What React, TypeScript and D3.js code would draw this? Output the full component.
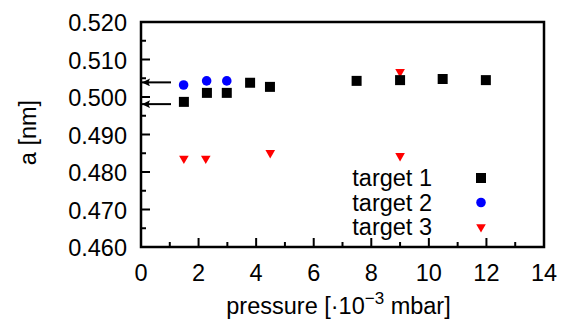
import React, { useEffect, useRef } from "react";
import * as d3 from "d3";

// target 1: black squares
const t1Pressure = [1.49, 2.29, 2.98, 3.79, 4.48, 7.49, 9.0, 10.48, 11.98];
const t1Lattice = [0.4987, 0.5011, 0.5011, 0.5038, 0.5027, 0.5043, 0.5045, 0.5048, 0.5045];
// target 2: blue circles
const t2Pressure = [1.48, 2.28, 2.98];
const t2Lattice = [0.5032, 0.5043, 0.5043];
// target 3: red triangles
const t3Pressure = [1.49, 2.25, 4.49, 9.0, 9.0];
const t3Lattice = [0.4836, 0.4836, 0.4851, 0.4843, 0.5067];
// reference values marked with arrows on the y axis
const arrowLattice = [0.5039, 0.4981];

const xTicks = [0, 2, 4, 6, 8, 10, 12, 14];
const yTicks = [0.46, 0.47, 0.48, 0.49, 0.5, 0.51, 0.52];
const legendLabels = ["target 1", "target 2", "target 3"];

const W = 566;
const H = 323;
const FONT = "Liberation Sans, Arial, sans-serif";
const FS = 23.5;

const App = () => {
  const svgRef = useRef<SVGSVGElement>(null);

  useEffect(() => {
    const svg = d3.select(svgRef.current);
    svg.selectAll("*").remove();

    const margin = { top: 22, right: 22, bottom: 76, left: 141 };
    const width = W - margin.left - margin.right;
    const height = H - margin.top - margin.bottom;

    const x = d3.scaleLinear().domain([0, 14]).range([0, width]);
    const y = d3.scaleLinear().domain([0.46, 0.52]).range([height, 0]);

    const g = svg
      .append("g")
      .attr("transform", `translate(${margin.left},${margin.top})`);

    const label = (parent: any, tx: number, ty: number, anchor: string, rot = 0) =>
      parent
        .append("text")
        .attr("transform", `translate(${tx},${ty})${rot ? ` rotate(${rot})` : ""}`)
        .attr("text-anchor", anchor)
        .attr("font-family", FONT)
        .attr("font-size", FS)
        .attr("fill", "#000");

    // minor ticks, pointing inward
    const xMinor = d3.range(1, 14, 2);
    g.selectAll(".xminor")
      .data(xMinor)
      .enter()
      .append("line")
      .attr("x1", (d) => x(d))
      .attr("x2", (d) => x(d))
      .attr("y1", height)
      .attr("y2", height - 5)
      .attr("stroke", "#000")
      .attr("stroke-width", 2);
    g.selectAll(".xmajor")
      .data(xTicks)
      .enter()
      .append("line")
      .attr("x1", (d) => x(d))
      .attr("x2", (d) => x(d))
      .attr("y1", height)
      .attr("y2", height - 9)
      .attr("stroke", "#000")
      .attr("stroke-width", 2);

    const yMinor = d3.range(0, 6).map((i) => 0.465 + i * 0.01);
    g.selectAll(".yminor")
      .data(yMinor)
      .enter()
      .append("line")
      .attr("x1", 0)
      .attr("x2", 5)
      .attr("y1", (d) => y(d))
      .attr("y2", (d) => y(d))
      .attr("stroke", "#000")
      .attr("stroke-width", 2);
    g.selectAll(".ymajor")
      .data(yTicks)
      .enter()
      .append("line")
      .attr("x1", 0)
      .attr("x2", 9)
      .attr("y1", (d) => y(d))
      .attr("y2", (d) => y(d))
      .attr("stroke", "#000")
      .attr("stroke-width", 2);

    // frame
    g.append("rect")
      .attr("width", width)
      .attr("height", height)
      .attr("fill", "none")
      .attr("stroke", "#000")
      .attr("stroke-width", 2.5);

    // tick labels
    xTicks.forEach((t) => {
      label(g, x(t), height + 34, "middle").text(t);
    });
    yTicks.forEach((t) => {
      label(g, -14, y(t) + 9, "end").text(d3.format(".3f")(t));
    });

    // axis titles
    const xt = label(g, width / 2 - 4, height + 67, "middle");
    xt.append("tspan").text("pressure [·10");
    xt.append("tspan").attr("dy", -10).attr("font-size", 17).text("−3");
    xt.append("tspan").attr("dy", 10).text(" mbar]");

    label(svg, 36, margin.top + height / 2 - 2, "middle", -90).text("a [nm]");

    // arrows
    svg
      .append("defs")
      .append("marker")
      .attr("id", "arrowhead")
      .attr("viewBox", "0 0 10 10")
      .attr("refX", 10)
      .attr("refY", 5)
      .attr("markerWidth", 6)
      .attr("markerHeight", 4)
      .attr("orient", "auto")
      .append("path")
      .attr("d", "M0,0L10,5L0,10L2,5Z")
      .attr("fill", "#000");
    g.selectAll(".arrow")
      .data(arrowLattice)
      .enter()
      .append("line")
      .attr("x1", 30)
      .attr("x2", 1)
      .attr("y1", (d) => y(d))
      .attr("y2", (d) => y(d))
      .attr("stroke", "#000")
      .attr("stroke-width", 2)
      .attr("marker-end", "url(#arrowhead)");

    const square = d3.symbol().type(d3.symbolSquare).size(100);
    const circle = d3.symbol().type(d3.symbolCircle).size(72);
    const tri = d3.symbol().type(d3.symbolTriangle).size(40);

    g.selectAll(".t3")
      .data(t3Pressure)
      .enter()
      .append("path")
      .attr("d", tri)
      .attr("transform", (d, i) => `translate(${x(d)},${y(t3Lattice[i])}) rotate(180)`)
      .attr("fill", "#ff0000");
    g.selectAll(".t2")
      .data(t2Pressure)
      .enter()
      .append("path")
      .attr("d", circle)
      .attr("transform", (d, i) => `translate(${x(d)},${y(t2Lattice[i])})`)
      .attr("fill", "#0000ff");
    g.selectAll(".t1")
      .data(t1Pressure)
      .enter()
      .append("path")
      .attr("d", square)
      .attr("transform", (d, i) => `translate(${x(d)},${y(t1Lattice[i])})`)
      .attr("fill", "#000");

    // legend
    const legend = svg.append("g");
    const symbols = [square, circle, tri];
    const colors = ["#000", "#0000ff", "#ff0000"];
    legendLabels.forEach((name, i) => {
      const ly = 178 + i * 24.5;
      label(legend, 432, ly + 8, "end").text(name);
      legend
        .append("path")
        .attr("d", symbols[i])
        .attr(
          "transform",
          `translate(481,${ly})${i === 2 ? " rotate(180)" : ""}`
        )
        .attr("fill", colors[i]);
    });
  }, []);

  return (
    <svg
      ref={svgRef}
      width={W}
      height={H}
      style={{ display: "block", position: "absolute", left: 0, top: 0, background: "#fff" }}
    />
  );
};

export default App;
